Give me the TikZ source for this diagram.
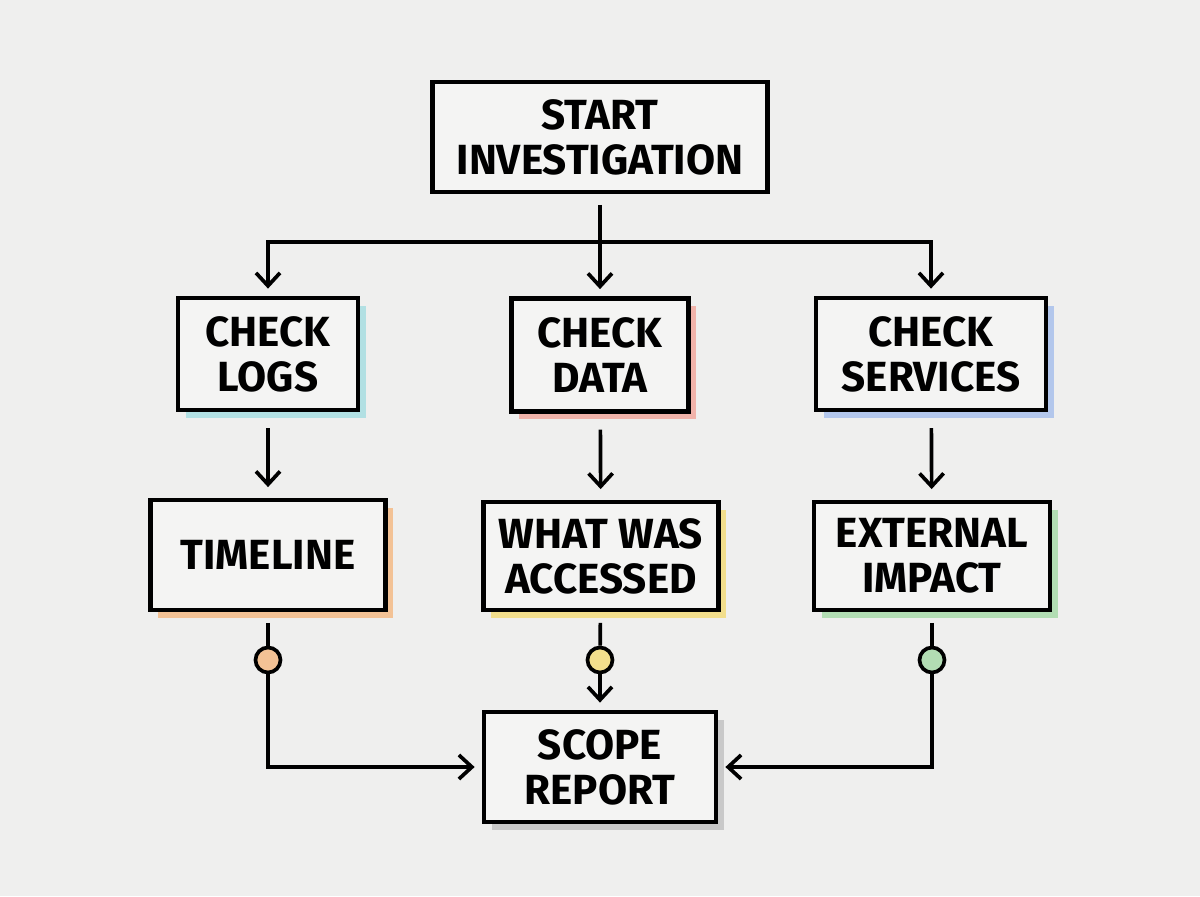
\documentclass[tikz,border=0pt]{standalone}
\usepackage{fontspec}
\setmainfont{Fira Sans}
\usepackage{xcolor}
\usetikzlibrary{
    positioning,
    arrows.meta,
    shadows,
}
\definecolor{paper}{HTML}{EFEFEE}
\definecolor{boxfill}{HTML}{F4F4F3}
\definecolor{cyanshade}{HTML}{B2E0E3}
\definecolor{redshade}{HTML}{F1B3AA}
\definecolor{blueshade}{HTML}{B3C7EC}
\definecolor{orangeshade}{HTML}{F3C295}
\definecolor{yellowshade}{HTML}{F2DE8C}
\definecolor{greenshade}{HTML}{B2DDB3}
\definecolor{grayshade}{HTML}{C9C9C9}
\tikzset{
    % Box styles
    block/.style={rectangle, draw, line width=2.7pt, fill=boxfill, align=center,
                  minimum height=3.1cm, inner sep=0pt,
                  font=\bfseries\fontsize{24}{25.5}\selectfont},
    shade block/.style={block, general shadow={fill=#1, shadow xshift=4.5pt, shadow yshift=-4.5pt}},
    % Arrow styles
    link/.style={line width=2.1pt, shorten <=6pt},
    arrow/.style={link, -{Straight Barb[length=2.6mm, width=4.8mm, line width=2.1pt]}, shorten >=4pt},
    % Junction dots
    dot/.style={circle, draw, line width=2.1pt, minimum size=0.5cm, inner sep=0pt},
}

\begin{document}
\begin{tikzpicture}[x=0.02cm, y=-0.02cm]
    \fill[paper] (0,0) rectangle (1200,896);
    \useasboundingbox (0,0) rectangle (1200,896);

    % top
    \node[block, minimum width=6.7cm, minimum height=2.2cm] (start) at (600,137) {START\\INVESTIGATION};

    % checks
    \node[shade block=cyanshade, minimum width=3.6cm, minimum height=2.24cm] (logs) at (268,354) {CHECK\\LOGS};
    \node[shade block=redshade, minimum width=3.54cm, minimum height=2.26cm] (data) at (600,355) {CHECK\\DATA};
    \node[shade block=blueshade, minimum width=4.6cm, minimum height=2.24cm] (services) at (931,354) {CHECK\\SERVICES};

    % findings
    \node[shade block=orangeshade, minimum width=4.7cm, minimum height=2.2cm] (timeline) at (268,555) {TIMELINE};
    \node[shade block=yellowshade, minimum width=4.7cm, minimum height=2.16cm] (accessed) at (601,556) {WHAT WAS\\ACCESSED};
    \node[shade block=greenshade, minimum width=4.72cm, minimum height=2.16cm] (impact) at (932,556) {EXTERNAL\\IMPACT};

    % result
    \node[shade block=grayshade, minimum width=4.64cm, minimum height=2.2cm] (report) at (600,767) {SCOPE\\REPORT};

    % dots
    \node[dot, fill=orangeshade] (tdot) at (268,660) {};
    \node[dot, fill=yellowshade] (adot) at (600,660) {};
    \node[dot, fill=greenshade] (idot) at (932,660) {};

    % fan out
    \coordinate (fork) at (600,242);
    \draw[link] (start) -- (fork);
    \draw[arrow, shorten <=0pt] (fork) -- (data);
    \draw[arrow, shorten <=0pt] (fork) -| (logs);
    \draw[arrow, shorten <=0pt] (fork) -| (services);

    % check to finding
    \draw[arrow, shorten <=9pt, shorten >=6pt] (logs) -- (timeline);
    \draw[arrow, shorten <=9pt, shorten >=6pt] (data) -- (accessed);
    \draw[arrow, shorten <=9pt, shorten >=6pt] (services) -- (impact);

    % finding to report
    \draw[link] (timeline) -- (tdot);
    \draw[link] (accessed) -- (adot);
    \draw[link] (impact) -- (idot);
    \draw[arrow, shorten <=0pt] (tdot) |- (report);
    \draw[arrow, shorten <=0pt] (adot) -- (report);
    \draw[arrow, shorten <=0pt] (idot) |- (report);
\end{tikzpicture}
\end{document}
